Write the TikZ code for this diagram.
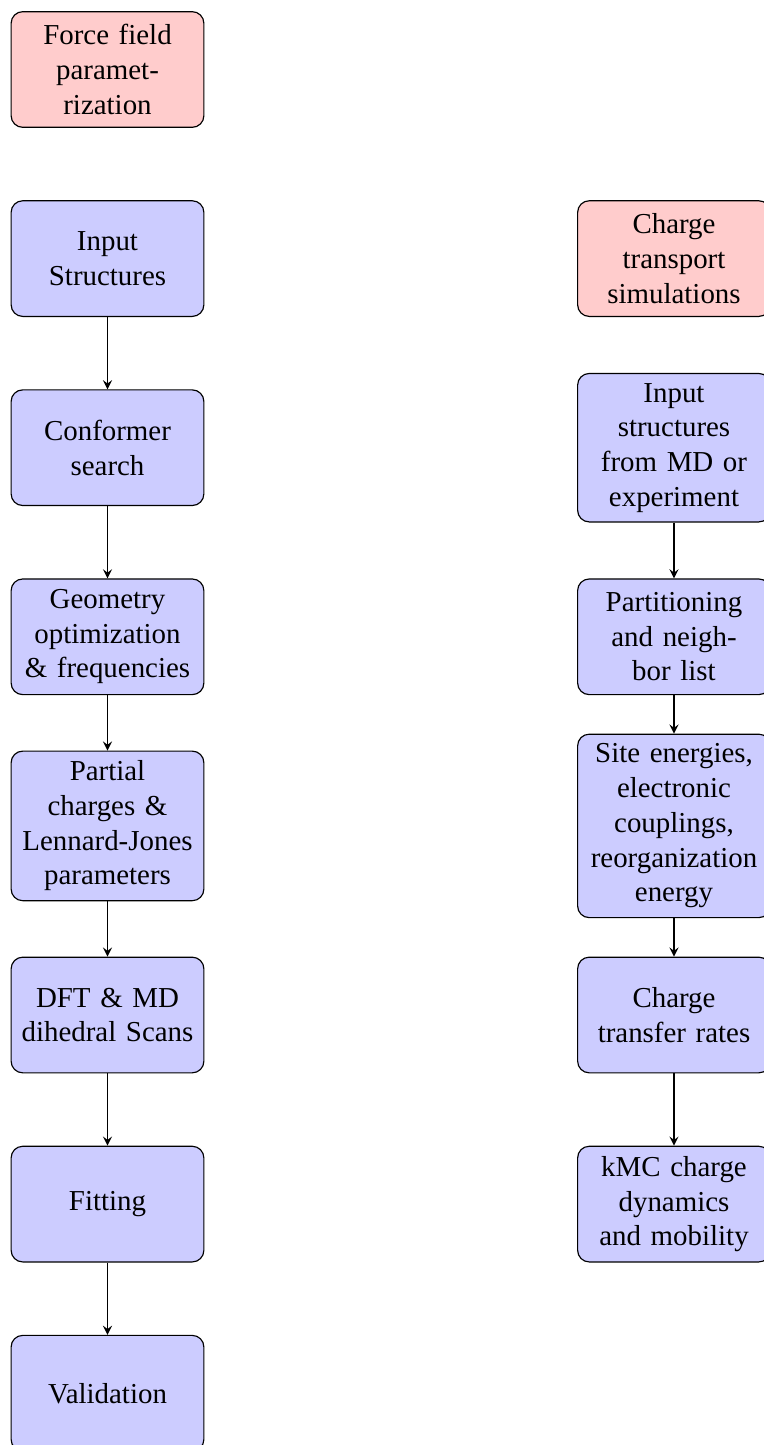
\documentclass[tikz,border=0pt]{standalone}
\usepackage{fontspec}
\setmainfont{Liberation Serif}
\usetikzlibrary{arrows}
\tikzset{
  blockbox/.style={rectangle, draw, fill=blue!20, text width=6em, align=center,
    rounded corners, minimum height=4em, font=\normalsize},
  headbox/.style={blockbox, fill=red!20},
  flowline/.style={draw, -stealth}
}
\begin{document}
\begin{tikzpicture}[x=0.3459pt, y=-0.3459pt]
\useasboundingbox (0,0) rectangle (764,1445);
% left column
\node[headbox]  (ff)    at (107.5, 69.5)   {Force field\\paramet-\\rization};
\node[blockbox] (inp)   at (107.5, 258.6)  {Input\\Structures};
\node[blockbox] (conf)  at (107.5, 447.7)  {Conformer\\search};
\node[blockbox] (geom)  at (107.5, 636.8)  {Geometry\\optimization\\\& frequencies};
\node[blockbox] (part)  at (107.5, 825.9)  {Partial\\charges \&\\Lennard-Jones\\parameters};
\node[blockbox] (dft)   at (107.5, 1015.0) {DFT \& MD\\dihedral Scans};
\node[blockbox] (fit)   at (107.5, 1204.1) {Fitting};
\node[blockbox] (val)   at (107.5, 1393.2) {Validation};
% right column
\node[headbox]  (ct)    at (674, 258.6)  {Charge\\transport\\simulations};
\node[blockbox] (inmd)  at (674, 447.7)  {Input\\structures\\from MD or\\experiment};
\node[blockbox] (prt)   at (674, 636.8)  {Partitioning\\and neigh-\\bor list};
\node[blockbox] (site)  at (674, 825.9)  {Site energies,\\electronic\\couplings,\\reorganization\\energy};
\node[blockbox] (rate)  at (674, 1015.0) {Charge\\transfer rates};
\node[blockbox] (kmc)   at (674, 1204.1) {kMC charge\\dynamics\\and mobility};
% connectors
\path[flowline] (inp) -- (conf);
\path[flowline] (conf) -- (geom);
\path[flowline] (geom) -- (part);
\path[flowline] (part) -- (dft);
\path[flowline] (dft) -- (fit);
\path[flowline] (fit) -- (val);
\path[flowline] (inmd) -- (prt);
\path[flowline] (prt) -- (site);
\path[flowline] (site) -- (rate);
\path[flowline] (rate) -- (kmc);
\end{tikzpicture}
\end{document}
